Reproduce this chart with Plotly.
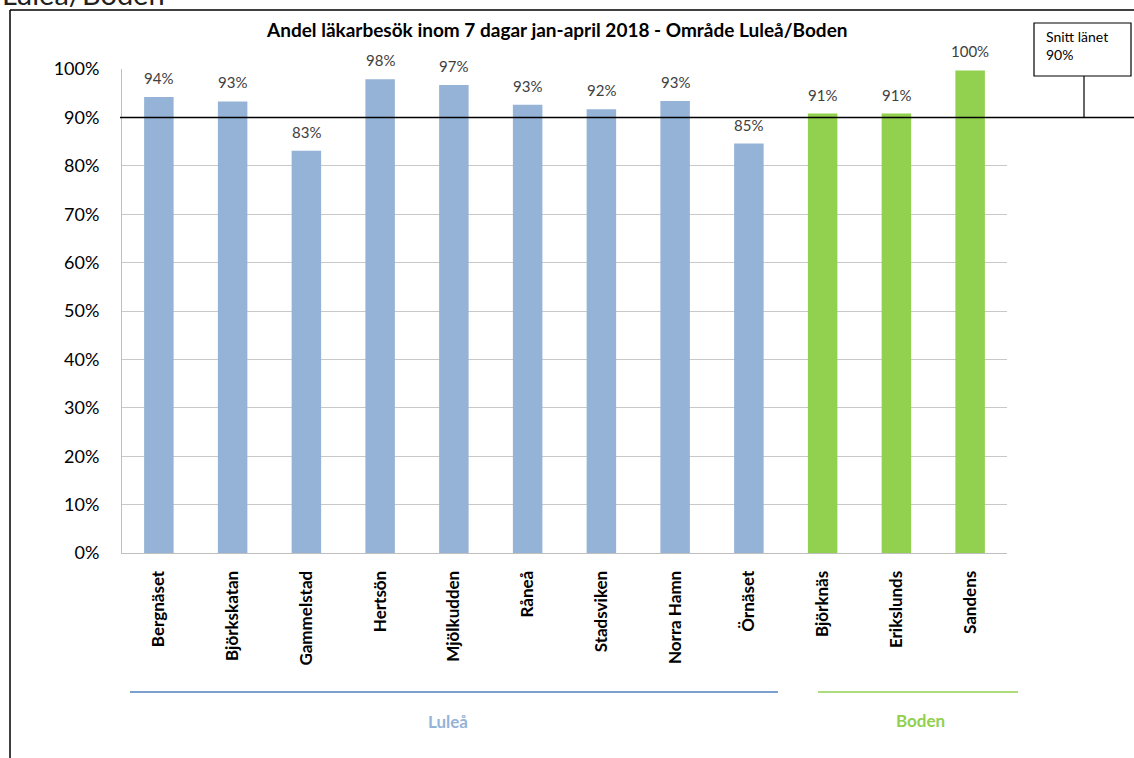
import plotly.graph_objects as go

# data
categories = ["Bergnäset", "Björkskatan", "Gammelstad", "Hertsön", "Mjölkudden", "Råneå",
              "Stadsviken", "Norra Hamn", "Örnäset", "Björknäs", "Erikslunds", "Sandens"]
area = ["Luleå"] * 9 + ["Boden"] * 3
share = [0.942, 0.933, 0.831, 0.979, 0.967, 0.926, 0.917, 0.934, 0.846, 0.908, 0.908, 0.997]
county_avg = 0.90
y_ticks = [0, 0.1, 0.2, 0.3, 0.4, 0.5, 0.6, 0.7, 0.8, 0.9, 1.0]

BLUE = "#95B3D7"
GREEN = "#92D050"
FONT = "Lato, 'Open Sans', sans-serif"

W, H = 1134, 758
L, R, T, B = 122, 1007, 69, 553  # plot area in px


def px(x):
    return (x - L) / (R - L)


def py(y):
    return (B - y) / (B - T)


colors = [BLUE if a == "Luleå" else GREEN for a in area]

fig = go.Figure()
fig.add_trace(go.Bar(x=categories, y=share, marker=dict(color=colors, line=dict(width=0)),
                     width=0.4, hoverinfo="x+y"))

# value labels above bars
for c, v in zip(categories, share):
    fig.add_annotation(x=c, y=v, text=f"{round(v * 100):.0f}%", showarrow=False,
                       yanchor="bottom", yshift=8, font=dict(size=15, color="#404040", family=FONT))

shapes = []
# outer chart border (top and left edges visible)
shapes.append(dict(type="line", xref="paper", yref="paper", x0=px(10), x1=px(W + 5),
                   y0=py(10), y1=py(10), line=dict(color="black", width=1.5)))
shapes.append(dict(type="line", xref="paper", yref="paper", x0=px(10), x1=px(10),
                   y0=py(10), y1=py(H + 5), line=dict(color="black", width=1.5)))
# county average line
shapes.append(dict(type="line", xref="paper", yref="y", x0=px(120), x1=px(W + 5),
                   y0=county_avg, y1=county_avg, line=dict(color="black", width=1.5)))
# callout box
shapes.append(dict(type="rect", xref="paper", yref="paper", x0=px(1034), x1=px(1131),
                   y0=py(23), y1=py(76), line=dict(color="black", width=1.2), fillcolor="white"))
shapes.append(dict(type="line", xref="paper", yref="paper", x0=px(1084), x1=px(1084),
                   y0=py(76), y1=py(117), line=dict(color="black", width=1.2)))
# group lines
shapes.append(dict(type="line", xref="paper", yref="paper", x0=px(130), x1=px(778),
                   y0=py(692), y1=py(692), line=dict(color="#4F81BD", width=1.5)))
shapes.append(dict(type="line", xref="paper", yref="paper", x0=px(818), x1=px(1018),
                   y0=py(692), y1=py(692), line=dict(color=GREEN, width=1.5)))

fig.add_annotation(xref="paper", yref="paper", x=px(1044), y=py(26), xanchor="left", yanchor="top",
                   align="left", showarrow=False, text="Snitt länet<br>90%",
                   font=dict(size=14, color="black", family=FONT))
fig.add_annotation(xref="paper", yref="paper", x=px(448), y=py(721), xanchor="center", yanchor="middle",
                   showarrow=False, text="<b>Luleå</b>", font=dict(size=17, color=BLUE, family=FONT))
fig.add_annotation(xref="paper", yref="paper", x=px(920), y=py(720), xanchor="center", yanchor="middle",
                   showarrow=False, text="<b>Boden</b>", font=dict(size=17, color=GREEN, family=FONT))
fig.add_annotation(xref="paper", yref="paper", x=px(0), y=py(-7), xanchor="left", yanchor="middle",
                   showarrow=False, text="Luleå/Boden", font=dict(size=29, color="#202020", family=FONT))
fig.add_annotation(xref="paper", yref="paper", x=px(557), y=py(30), xanchor="center", yanchor="middle",
                   showarrow=False,
                   text="<b>Andel läkarbesök inom 7 dagar jan-april 2018 - Område Luleå/Boden</b>",
                   font=dict(size=19, color="black", family=FONT))

fig.update_layout(
    width=W, height=H,
    margin=dict(l=L, r=W - R, t=T, b=H - B, pad=0),
    paper_bgcolor="white", plot_bgcolor="white",
    showlegend=False, shapes=shapes,
    font=dict(family=FONT, color="black"),
    xaxis=dict(type="category", tickangle=-90, showline=True, linecolor="#BFBFBF", linewidth=1,
               ticks="", tickfont=dict(size=17, color="black", family=FONT),
               showgrid=False, fixedrange=True, ticklabelstandoff=10,
               tickvals=categories, ticktext=[f"<b>{c}</b>" for c in categories]),
    yaxis=dict(range=[0, 1], tickvals=y_ticks, tickformat=".0%", showgrid=True,
               gridcolor="#C8C8C8", gridwidth=1, showline=True, linecolor="#BFBFBF",
               ticks="", ticklabelstandoff=18, zeroline=False,
               tickfont=dict(size=18, color="black", family=FONT), fixedrange=True),
)
fig.update_traces(cliponaxis=False)

fig.write_html("out.html", config={"displayModeBar": False},
               post_script="document.body.style.margin='0';document.body.style.overflow='hidden';")
